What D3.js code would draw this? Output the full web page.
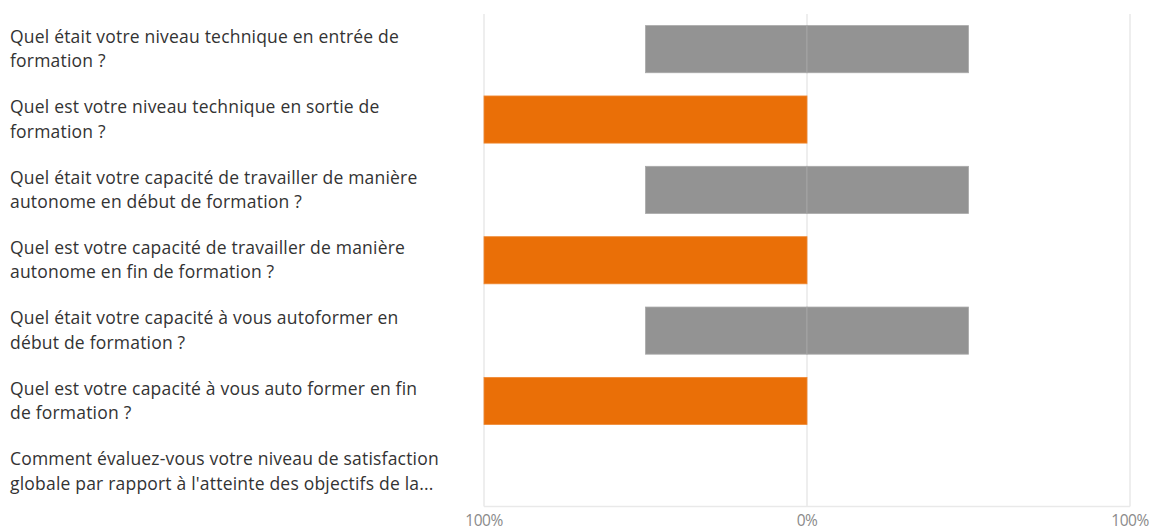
<!DOCTYPE html>
<html>
<head>
<meta charset="utf-8">
<script src="https://cdn.jsdelivr.net/npm/d3@7"></script>
<style>
  html, body { margin: 0; padding: 0; background: #fff; }
  svg { display: block; }
</style>
</head>
<body>
<svg id="chart" width="1152" height="531"></svg>
<script>
// Questions, each already broken into its display lines
const questions = [
  ["Quel était votre niveau technique en entrée de", "formation ?"],
  ["Quel est votre niveau technique en sortie de", "formation ?"],
  ["Quel était votre capacité de travailler de manière", "autonome en début de formation ?"],
  ["Quel est votre capacité de travailler de manière", "autonome en fin de formation ?"],
  ["Quel était votre capacité à vous autoformer en", "début de formation ?"],
  ["Quel est votre capacité à vous auto former en fin", "de formation ?"],
  ["Comment évaluez-vous votre niveau de satisfaction", "globale par rapport à l'atteinte des objectifs de la..."]
];
// Share of answers on the left (negative) and right (positive) side, in %
const leftShare  = [50, 100, 50, 100, 50, 100, 0];
const rightShare = [50,   0, 50,   0, 50,   0, 0];
// Which palette entry each question uses: 0 = start of training, 1 = end of training
const phase = [0, 1, 0, 1, 0, 1, 1];
const phaseColors = ["#939393", "#EA6F07"];
const tickValues = [-100, 0, 100];

const svg = d3.select("#chart");
const margin = { left: 484, right: 22, top: 14, bottom: 24.5 };
const W = 1152, H = 531;

const x = d3.scaleLinear().domain([-100, 100]).range([margin.left, W - margin.right]);
const y = d3.scaleBand().domain(d3.range(questions.length))
  .range([margin.top, H - margin.bottom]).paddingInner(0.33).paddingOuter(0.165);

// vertical gridlines
svg.append("g").selectAll("line").data(tickValues).join("line")
  .attr("x1", d => x(d)).attr("x2", d => x(d))
  .attr("y1", margin.top).attr("y2", H - margin.bottom)
  .attr("stroke", "#e9e9e9").attr("stroke-width", 1.5);

// baseline
svg.append("line")
  .attr("x1", x(-100)).attr("x2", x(100))
  .attr("y1", H - margin.bottom).attr("y2", H - margin.bottom)
  .attr("stroke", "#e9e9e9").attr("stroke-width", 1.5);

// diverging bars: one segment left of zero, one right of zero
const segs = [];
questions.forEach((q, i) => {
  if (leftShare[i] > 0) segs.push({ i, from: -leftShare[i], to: 0 });
  if (rightShare[i] > 0) segs.push({ i, from: 0, to: rightShare[i] });
});
svg.append("g").selectAll("rect").data(segs).join("rect")
  .attr("x", d => x(d.from))
  .attr("width", d => x(d.to) - x(d.from))
  .attr("y", d => y(d.i))
  .attr("height", y.bandwidth())
  .attr("fill", d => phaseColors[phase[d.i]])
  .attr("stroke", d => phase[d.i] === 0 ? "#a9a9a9" : "#f08a35")
  .attr("stroke-width", 0.8);

// question labels
const labels = svg.append("g").selectAll("text").data(questions).join("text")
  .attr("x", 10)
  .attr("y", (d, i) => y(i) + y.bandwidth() / 2)
  .attr("fill", "#333")
  .style("font-family", "'Open Sans', 'Noto Sans', sans-serif")
  .style("font-size", "17.5px")
  .style("letter-spacing", "0.2px");
labels.selectAll("tspan").data(d => d).join("tspan")
  .attr("x", 10)
  .attr("dy", (d, j) => j === 0 ? "-0.36em" : "24.5px")
  .text(d => d);

// x axis tick labels: absolute percentages on both sides
svg.append("g").selectAll("text").data(tickValues).join("text")
  .attr("x", d => x(d))
  .attr("y", 526)
  .attr("text-anchor", "middle")
  .attr("fill", "#8a8a8a")
  .style("font-family", "'Open Sans', sans-serif")
  .style("font-size", "15.5px")
  .style("letter-spacing", "-0.5px")
  .text(d => Math.abs(d) + "%");
</script>
</body>
</html>
